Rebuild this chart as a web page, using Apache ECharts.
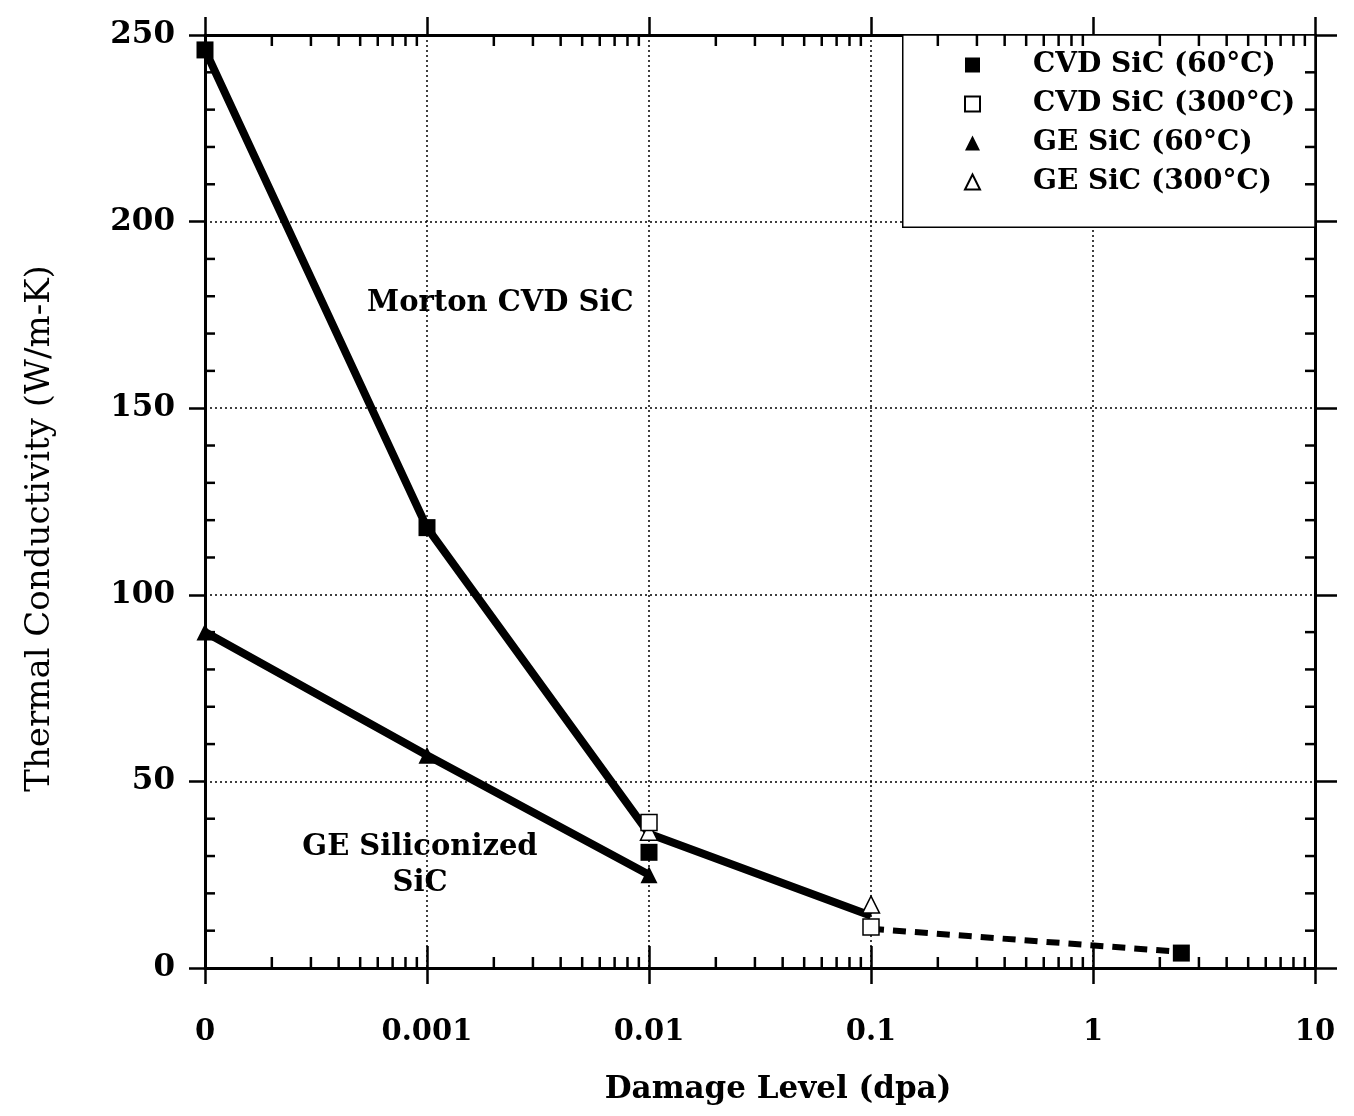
<!DOCTYPE html>
<html>
<head>
<meta charset="utf-8">
<script src="https://cdn.jsdelivr.net/npm/echarts@6/dist/echarts.min.js"></script>
<style>
html,body{margin:0;padding:0;background:#fff;}
#chart{width:1354px;height:1116px;}
</style>
</head>
<body>
<div id="chart"></div>
<script>
// ---- data (x = damage level in dpa; "0" plotted at 1e-4) ----
const xTickLabels = ['0', '0.001', '0.01', '0.1', '1', '10'];
const cvd60 = [[0.0001, 246], [0.001, 118], [0.01, 31], [2.5, 4]];
const cvd300 = [[0.01, 39], [0.1, 11]];
const ge60 = [[0.0001, 90], [0.001, 57], [0.01, 25]];
const ge300 = [[0.01, 36.5], [0.1, 17]];
const cvdLine = [[0.0001, 246], [0.001, 118], [0.01, 36], [0.1, 14]];
const geLine = [[0.0001, 90], [0.001, 57], [0.01, 25]];
const dashedLine = [[0.1, 10.5], [2.5, 4.3]];
const annotations = [
  { text: 'Morton CVD SiC', x: 0.00214, y: 178 },
  { text: 'GE Siliconized\nSiC', x: 0.00093, y: 27.5 }
];
const legendBox = [[0.139, 198.5], [10, 250]];
const minorX = [0.0002,0.0003,0.0004,0.0005,0.0006,0.0007,0.0008,0.0009,
  0.002,0.003,0.004,0.005,0.006,0.007,0.008,0.009,
  0.02,0.03,0.04,0.05,0.06,0.07,0.08,0.09,
  0.2,0.3,0.4,0.5,0.6,0.7,0.8,0.9,
  2,3,4,5,6,7,8,9];
const minorY = [10,20,30,40,60,70,80,90,110,120,130,140,160,170,180,190,210,220,230,240];

const SERIF = '"DejaVu Serif", "Liberation Serif", serif';
const chart = echarts.init(document.getElementById('chart'));

const xBase = { type: 'log', logBase: 10, min: 0.0001, max: 10, gridIndex: 0 };
const yBase = { type: 'value', min: 0, max: 250, interval: 50, gridIndex: 0 };
const axLine = { show: true, onZero: false, lineStyle: { color: '#000', width: 3 } };
const tickStyle = { color: '#000', width: 2.5 };

function labelFor(v) {
  const i = Math.round(Math.log10(v)) + 4;
  return xTickLabels[i] !== undefined ? xTickLabels[i] : '';
}

const option = {
  animation: false,
  backgroundColor: '#fff',
  grid: { left: 205, right: 39, top: 35, bottom: 148 },
  legend: {
    data: ['CVD SiC (60°C)', 'CVD SiC (300°C)', 'GE SiC (60°C)', 'GE SiC (300°C)'],
    orient: 'vertical',
    left: 964, top: 50,
    padding: 0,
    itemWidth: 15, itemHeight: 15, itemGap: 9,
    selectedMode: false,
    textStyle: { fontFamily: SERIF, fontWeight: 'bold', fontSize: 28, color: '#000', lineHeight: 30, padding: [0, 0, 0, 48] }
  },
  xAxis: [
    Object.assign({}, xBase, {
      position: 'bottom',
      name: 'Damage Level (dpa)', nameLocation: 'middle', nameGap: 106,
      nameTextStyle: { fontFamily: SERIF, fontWeight: 'bold', fontSize: 31, color: '#000', padding: [0, 0, 0, 36] },
      axisLine: axLine,
      axisTick: { show: true, length: 16, lineStyle: tickStyle },
      axisLabel: { show: true, margin: 50, formatter: labelFor, fontFamily: SERIF, fontWeight: 'bold', fontSize: 29, color: '#000' },
      splitLine: { show: true, lineStyle: { color: '#000', width: 1.5, type: [2, 3] } }
    }),
    Object.assign({}, xBase, {
      position: 'bottom',
      axisLine: { show: false, onZero: false },
      axisTick: { show: true, inside: true, length: 22, lineStyle: tickStyle },
      axisLabel: { show: false }, splitLine: { show: false }
    }),
    Object.assign({}, xBase, {
      position: 'top',
      axisLine: axLine,
      axisTick: { show: true, length: 18, lineStyle: tickStyle },
      axisLabel: { show: false }, splitLine: { show: false }
    })
  ],
  yAxis: [
    Object.assign({}, yBase, {
      position: 'left',
      name: 'Thermal Conductivity (W/m-K)', nameLocation: 'middle', nameGap: 148,
      nameTextStyle: { fontFamily: SERIF, fontSize: 34, color: '#000', padding: [0, 54, 0, 0] },
      axisLine: axLine,
      axisTick: { show: true, length: 16, lineStyle: tickStyle },
      axisLabel: { show: true, margin: 30, fontFamily: SERIF, fontWeight: 'bold', fontSize: 31, color: '#000' },
      splitLine: { show: true, lineStyle: { color: '#000', width: 1.5, type: [2, 3] } }
    }),
    Object.assign({}, yBase, {
      position: 'right',
      axisLine: axLine,
      axisTick: { show: true, length: 22, lineStyle: tickStyle },
      axisLabel: { show: false }, splitLine: { show: false }
    })
  ],
  series: [
    {
      type: 'custom', name: 'xMinor', z: 1, silent: true, clip: false,
      xAxisIndex: 0, yAxisIndex: 0,
      data: minorX.map(v => [v, 0]),
      renderItem: function (params, api) {
        const b = api.coord([api.value(0), 0]);
        const t = api.coord([api.value(0), 250]);
        return { type: 'group', children: [
          { type: 'line', shape: { x1: b[0], y1: b[1], x2: b[0], y2: b[1] - 11 }, style: { stroke: '#000', lineWidth: 2.5 } },
          { type: 'line', shape: { x1: t[0], y1: t[1], x2: t[0], y2: t[1] + 11 }, style: { stroke: '#000', lineWidth: 2.5 } }
        ] };
      }
    },
    {
      type: 'custom', name: 'yMinor', z: 1, silent: true, clip: false,
      xAxisIndex: 0, yAxisIndex: 0,
      data: minorY.map(v => [0.0001, v]),
      renderItem: function (params, api) {
        const l = api.coord([0.0001, api.value(1)]);
        const r = api.coord([10, api.value(1)]);
        return { type: 'group', children: [
          { type: 'line', shape: { x1: l[0], y1: l[1], x2: l[0] + 10, y2: l[1] }, style: { stroke: '#000', lineWidth: 2.5 } },
          { type: 'line', shape: { x1: r[0], y1: r[1], x2: r[0] - 10, y2: r[1] }, style: { stroke: '#000', lineWidth: 2.5 } }
        ] };
      }
    },
    {
      type: 'line', name: 'box', z: 3, silent: true, data: [],
      symbol: 'none',
      markArea: {
        silent: true,
        itemStyle: { color: '#fff', opacity: 1, borderColor: '#000', borderWidth: 1.5 },
        label: { show: false },
        data: [[{ coord: legendBox[0] }, { coord: legendBox[1] }]]
      }
    },
    {
      type: 'line', name: 'cvdLine', z: 4, data: cvdLine, symbol: 'none', silent: true,
      lineStyle: { color: '#000', width: 8 }
    },
    {
      type: 'line', name: 'geLine', z: 4, data: geLine, symbol: 'none', silent: true,
      lineStyle: { color: '#000', width: 8 }
    },
    {
      type: 'line', name: 'dashed', z: 4, data: dashedLine, symbol: 'none', silent: true,
      lineStyle: { color: '#000', width: 6, type: [13, 9] }
    },
    {
      type: 'scatter', name: 'CVD SiC (60°C)', z: 6, data: cvd60, symbol: 'rect', symbolSize: 17,
      itemStyle: { color: '#000', opacity: 1 }
    },
    {
      type: 'scatter', name: 'GE SiC (300°C)', z: 5, data: ge300, symbol: 'triangle', symbolSize: 17,
      itemStyle: { color: '#fff', borderColor: '#000', borderWidth: 1.5, opacity: 1 }
    },
    {
      type: 'scatter', name: 'CVD SiC (300°C)', z: 5, data: cvd300, symbol: 'rect', symbolSize: 16,
      itemStyle: { color: '#fff', borderColor: '#000', borderWidth: 1.5, opacity: 1 }
    },
    {
      type: 'scatter', name: 'GE SiC (60°C)', z: 6, data: ge60, symbol: 'triangle', symbolSize: 17,
      itemStyle: { color: '#000', opacity: 1 }
    },
    {
      type: 'scatter', name: 'annotations', z: 7, silent: true, symbolSize: 0,
      itemStyle: { opacity: 1 },
      data: annotations.map(a => ({ value: [a.x, a.y], label: { formatter: a.text } })),
      label: {
        show: true, position: 'inside', align: 'center', verticalAlign: 'middle',
        fontFamily: SERIF, fontWeight: 'bold', fontSize: 29, lineHeight: 36, color: '#000'
      }
    }
  ]
};
chart.setOption(option);
</script>
</body>
</html>
